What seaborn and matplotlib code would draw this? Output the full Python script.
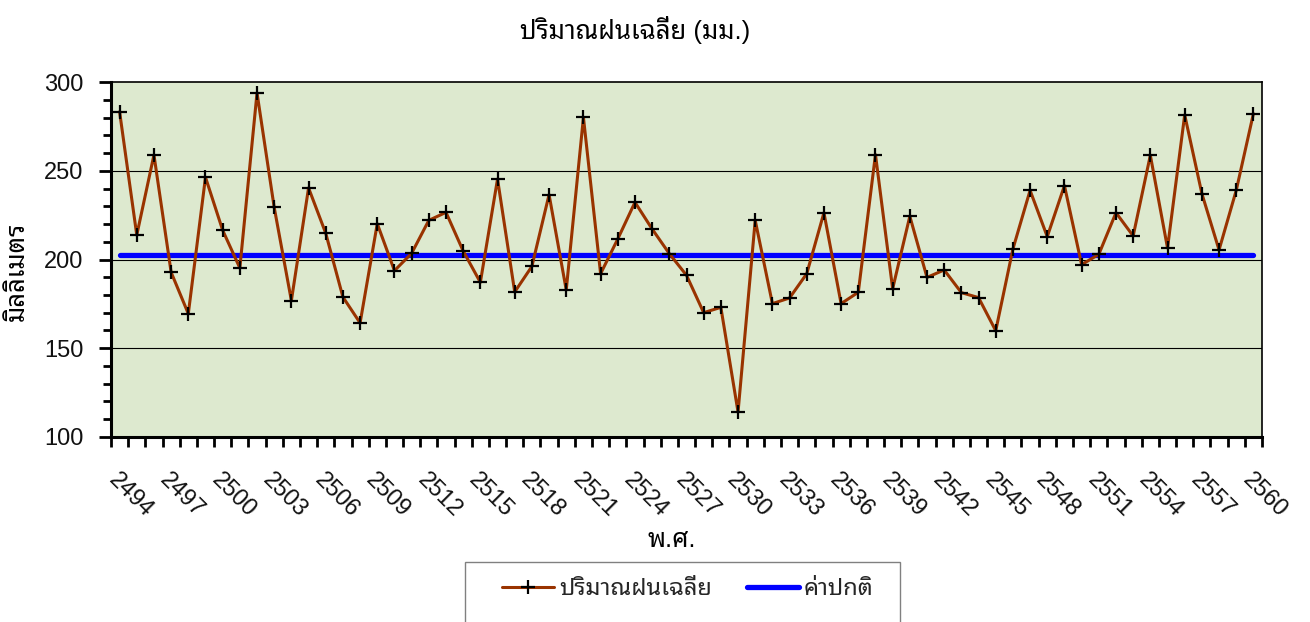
import numpy as np
import pandas as pd
import matplotlib
matplotlib.use('Agg')
import matplotlib.pyplot as plt
from matplotlib import font_manager
from matplotlib.ft2font import FT2Font
from matplotlib.lines import Line2D
from matplotlib.patches import Rectangle
import seaborn as sns

# data
years = list(range(2494, 2561))
rain = [283.4, 213.8, 259.0, 192.8, 169.4, 246.4, 216.5, 195.2, 294.0, 229.4,
        176.8, 240.4, 214.8, 178.8, 164.2, 220.2, 193.7, 203.5, 222.1, 226.6,
        204.8, 187.1, 245.4, 181.7, 196.1, 236.6, 182.8, 280.2, 192.0, 211.6,
        232.3, 217.2, 203.3, 191.1, 170.0, 173.0, 113.9, 222.1, 175.1, 178.3,
        192.0, 226.4, 175.1, 181.5, 259.2, 183.5, 224.4, 189.9, 194.1, 181.3,
        178.5, 159.8, 205.9, 239.0, 212.9, 241.7, 197.1, 202.9, 226.4, 213.3,
        258.8, 206.5, 281.6, 237.2, 205.4, 239.0, 282.3]
normal = 202.4
label_rain = 'ปริมาณฝนเฉลี่ย'
label_normal = 'ค่าปกติ'
title = 'ปริมาณฝนเฉลี่ย (มม.)'
xlabel = 'พ.ศ.'
ylabel = 'มิลลิเมตร'


def find_thai_font():
    found = []
    for f in font_manager.fontManager.ttflist:
        try:
            if 0x0E1B in FT2Font(f.fname).get_charmap():
                found.append(f.name)
        except Exception:
            pass
    for pref in ['Tahoma', 'Leelawadee', 'Noto Sans Thai Looped', 'Noto Sans Thai',
                 'Loma', 'Garuda', 'Norasi', 'Waree', 'Sarabun']:
        for name in found:
            if name.startswith(pref):
                return name
    return found[0] if found else None


sns.set_theme(style='ticks')
thai = find_thai_font()
fams = ['Liberation Sans'] + ([thai] if thai else []) + ['DejaVu Sans']
plt.rcParams['font.family'] = fams
thai_kw = dict(fontsize=18.5, color='black', fontweight='light')

fig = plt.figure(figsize=(13.1, 6.22), dpi=100)
ax = fig.add_axes([111 / 1310, 1 - 436.7 / 622, 1151 / 1310, 354.4 / 622])
ax.set_facecolor('#dde9cf')

df = pd.DataFrame({'year': years, 'rain': rain})
sns.lineplot(data=df, x='year', y='rain', ax=ax, color='#993300', lw=2.2,
             marker='+', markersize=10, markeredgewidth=1.6,
             markeredgecolor='black', zorder=4)
sns.lineplot(x=[years[0], years[-1]], y=[normal, normal], ax=ax,
             color='#0000ff', lw=3.8, solid_capstyle='round', zorder=3)

ax.set_ylim(100, 300)
ax.set_xlim(years[0] - 0.5, years[-1] + 0.5)
ax.set_yticks([100, 150, 200, 250, 300])
ax.set_yticks(np.arange(100, 301, 10), minor=True)
for yv in [150, 200, 250]:
    ax.axhline(yv, color='black', lw=0.8, zorder=1)

ax.set_xticks(years[::3])
ax.set_xticklabels([str(y) for y in years[::3]], rotation=-45, ha='left',
                   va='top', rotation_mode='anchor')
ax.set_xticks(np.arange(years[0] - 0.5, years[-1] + 0.6, 1), minor=True)
ax.tick_params(axis='x', which='major', length=0, pad=23, labelsize=17,
               labelcolor='#111111')
ax.tick_params(axis='x', which='minor', length=7, width=2, color='black')
ax.tick_params(axis='y', which='major', length=9, width=2, pad=11,
               labelsize=17, color='black', labelcolor='#111111')
ax.tick_params(axis='y', which='minor', length=6, width=2, color='black')

for side in ['left', 'bottom']:
    ax.spines[side].set_linewidth(2.2)
    ax.spines[side].set_color('black')
for side in ['top', 'right']:
    ax.spines[side].set_linewidth(1.2)
    ax.spines[side].set_color('black')

ax.set_xlabel('')
ax.set_ylabel(ylabel, **thai_kw)
ax.yaxis.set_label_coords(-0.071, 0.465)

fig.text(635 / 1310, 1 - 30 / 622, title, ha='center', va='center', **thai_kw)
fig.text(672 / 1310, 1 - 540 / 622, xlabel, ha='center', va='center', **thai_kw)

# legend box
fig.patches.append(Rectangle((465 / 1310, -0.02), 435 / 1310, (622 - 562) / 622 + 0.02,
                             transform=fig.transFigure, facecolor='white',
                             edgecolor='#808080', lw=1))
handles = [Line2D([], [], color='#993300', lw=2.2, marker='+', markersize=10,
                  markeredgewidth=1.6, markeredgecolor='black'),
           Line2D([], [], color='#0000ff', lw=3.8)]
fig.legend(handles, [label_rain, label_normal], loc='center',
           bbox_to_anchor=(688 / 1310, 1 - 589 / 622), ncol=2, frameon=False,
           prop={'size': 17, 'weight': 'light'}, handlelength=2.2,
           handletextpad=0.2, columnspacing=1.5)

fig.savefig('out.png', dpi=100)
